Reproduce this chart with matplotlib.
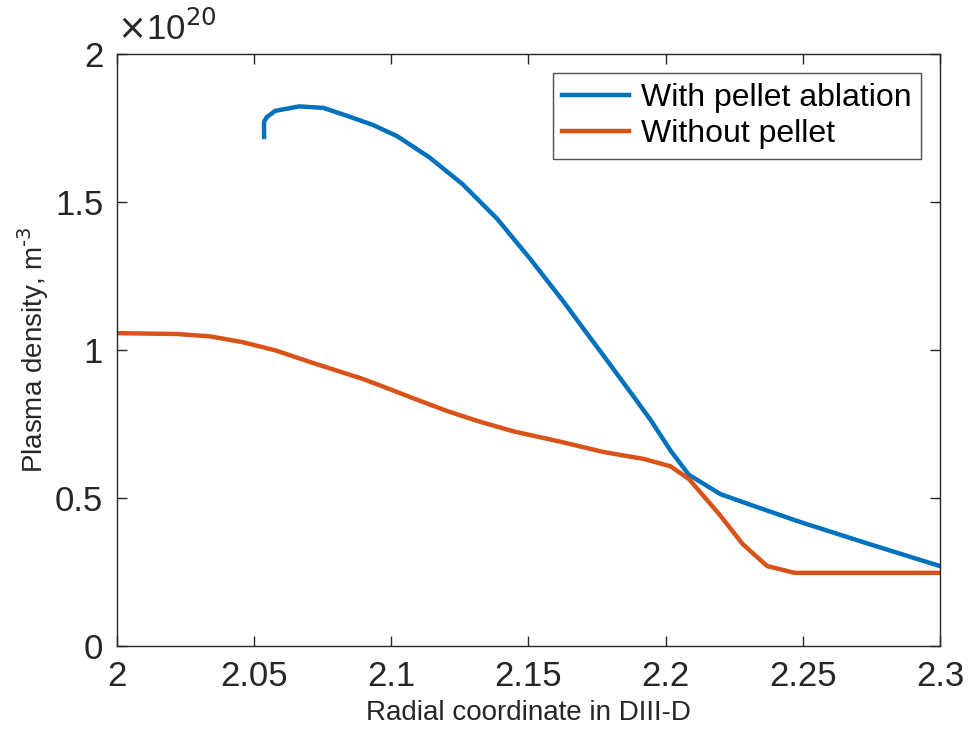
import matplotlib
matplotlib.use("Agg")
import matplotlib.pyplot as plt
from matplotlib.ticker import FuncFormatter

# Data (density in units of 1e20 m^-3)
with_x = [2.0536, 2.0536, 2.0546, 2.0577, 2.0664, 2.0752, 2.0839, 2.0934, 2.1022,
          2.114, 2.126, 2.1386, 2.1507, 2.1628, 2.1678, 2.1775, 2.1872, 2.1945,
          2.2018, 2.2085, 2.220, 2.230, 2.249, 2.274, 2.300]
with_y = [1.720, 1.771, 1.787, 1.808, 1.823, 1.818, 1.791, 1.760, 1.722,
          1.650, 1.560, 1.443, 1.307, 1.163, 1.100, 0.979, 0.857, 0.764,
          0.660, 0.578, 0.513, 0.480, 0.419, 0.345, 0.270]
without_x = [2.0, 2.0218, 2.034, 2.046, 2.058, 2.0705, 2.0887, 2.096, 2.1082, 2.1203,
             2.1325, 2.1446, 2.1617, 2.1775, 2.192, 2.2018, 2.2085, 2.220, 2.228,
             2.237, 2.247, 2.3]
without_y = [1.057, 1.054, 1.046, 1.026, 0.998, 0.959, 0.905, 0.880, 0.836, 0.794,
             0.757, 0.725, 0.690, 0.655, 0.632, 0.607, 0.564, 0.440, 0.345,
             0.270, 0.247, 0.247]
labels = ["With pellet ablation", "Without pellet"]
xticks = [2.0, 2.05, 2.1, 2.15, 2.2, 2.25, 2.3]
yticks = [0, 0.5, 1.0, 1.5, 2.0]

plt.rcParams['font.family'] = ['Liberation Sans', 'DejaVu Sans']
fig = plt.figure(figsize=(9.68, 7.43), dpi=100)
ax = fig.add_axes([0.1209, 0.1306, 0.971 - 0.1209, 0.9273 - 0.1306])

ax.plot(with_x, with_y, color='#0072BD', lw=3.2, label=labels[0])
ax.plot(without_x, without_y, color='#D95319', lw=3.2, label=labels[1])

ax.set_xlim(2.0, 2.3)
ax.set_ylim(0, 2)
ax.set_xticks(xticks)
ax.set_yticks(yticks)
fmt = FuncFormatter(lambda v, p: ('%g' % round(v, 4)))
ax.xaxis.set_major_formatter(fmt)
ax.yaxis.set_major_formatter(fmt)

axc = '#262626'
for s in ax.spines.values():
    s.set_color(axc)
    s.set_linewidth(1.0)
ax.tick_params(direction='in', length=7, width=1.0, colors=axc, labelsize=25,
               top=True, right=True, pad=10)

ax.set_xlabel("Radial coordinate in DIII-D", fontsize=20, color=axc, labelpad=5)
ax.set_ylabel(r"Plasma density, m$^{\text{-}3}$", fontsize=20, color=axc, labelpad=3)

ax.text(0.0, 1.012, r"$\times$10$^{20}$", transform=ax.transAxes, fontsize=25,
        color=axc, ha='left', va='bottom')

leg = ax.legend(loc='upper right', fontsize=23, frameon=True, fancybox=False,
                edgecolor=axc, handlelength=2.1, handletextpad=0.35,
                borderpad=0.3, labelspacing=0.2, borderaxespad=0.6)
leg.get_frame().set_linewidth(1.0)

fig.savefig("out.png", dpi=100)
